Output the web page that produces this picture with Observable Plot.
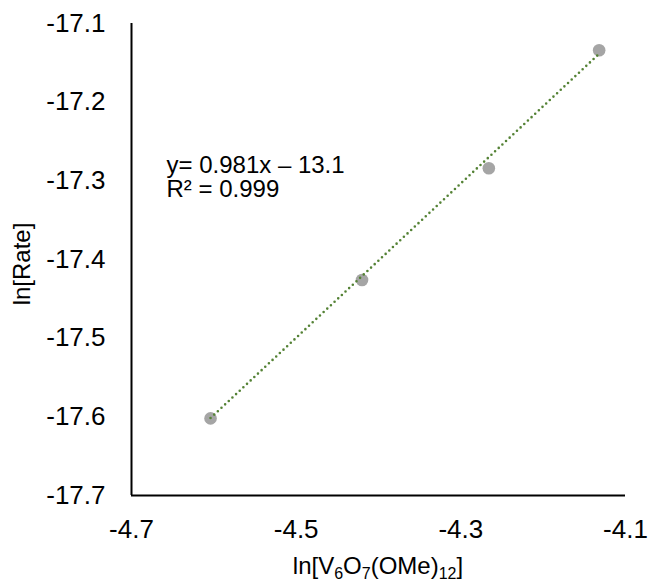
<!DOCTYPE html>
<html>
<head>
<meta charset="utf-8">
<script src="https://cdn.jsdelivr.net/npm/d3@7"></script>
<script src="https://cdn.jsdelivr.net/npm/@observablehq/plot@0.6"></script>
<style>
  body { margin: 0; background: #fff; }
</style>
</head>
<body>
<div id="chart"></div>
<script>
// ln of catalyst concentration vs ln of initial rate
const lnConc = [-4.604, -4.420, -4.266, -4.132];
const lnRate = [-17.602, -17.426, -17.284, -17.134];

const xTicks = [-4.7, -4.5, -4.3, -4.1];
const yTicks = [-17.7, -17.6, -17.5, -17.4, -17.3, -17.2, -17.1];

// linear fit coefficients
const slope = 0.981;
const intercept = -13.085;
const rSquared = 0.999;

const points = lnConc.map((x, i) => ({x, y: lnRate[i]}));
const fit = d3.extent(lnConc).map(x => ({x, y: slope * x + intercept}));
const fmt1 = d => d.toFixed(1);
const equation = `y= ${slope.toFixed(3)}x – ${Math.abs(intercept).toFixed(1)}\nR² = ${rSquared.toFixed(3)}`;

const FONT = "'Liberation Sans', Arial, Helvetica, sans-serif";

const chart = Plot.plot({
  width: 648,
  height: 583,
  marginLeft: 131,
  marginRight: 23,
  marginTop: 23,
  marginBottom: 88,
  style: {fontFamily: FONT, fontSize: "26px", color: "#000", background: "#fff", overflow: "visible"},
  x: {domain: [-4.7, -4.1]},
  y: {domain: [-17.7, -17.1]},
  marks: [
    Plot.axisX({ticks: xTicks, tickFormat: fmt1, tickSize: 0, tickPadding: 24, label: null, fontSize: 26}),
    Plot.axisY({ticks: yTicks, tickFormat: fmt1, tickSize: 0, tickPadding: 26, label: null, fontSize: 26}),
    Plot.ruleX([-4.7], {stroke: "#000", strokeWidth: 2}),
    Plot.ruleY([-17.7], {stroke: "#000", strokeWidth: 2}),
    Plot.dot(points, {x: "x", y: "y", r: 6.3, fill: "#A5A5A5", stroke: null}),
    Plot.line(fit, {x: "x", y: "y", stroke: "#548235", strokeWidth: 2.6, strokeDasharray: "0 5", strokeLinecap: "round"}),
    Plot.text([equation], {
      text: d => d,
      frameAnchor: "top-left",
      textAnchor: "start",
      lineAnchor: "top",
      dx: 35,
      dy: 132,
      lineHeight: 1.0,
      fontSize: 24,
      fill: "#000"
    })
  ]
});

document.getElementById("chart").appendChild(chart);

// Axis titles (the x title carries subscripts)
const svg = d3.select(chart);
const xs = chart.scale("x");
const ys = chart.scale("y");
const xMid = (xs.range[0] + xs.range[1]) / 2;
const yMid = (ys.range[0] + ys.range[1]) / 2;

const xTitle = svg.append("text")
  .attr("x", xMid)
  .attr("y", 574)
  .attr("text-anchor", "middle")
  .attr("font-family", FONT)
  .attr("font-size", 24)
  .attr("fill", "#000");
const parts = [["ln[V", 0], ["6", 1], ["O", 0], ["7", 1], ["(OMe)", 0], ["12", 1], ["]", 0]];
let shifted = false;
for (const [t, sub] of parts) {
  const ts = xTitle.append("tspan").text(t);
  if (sub) {
    ts.attr("font-size", 16).attr("dy", shifted ? 0 : 5);
    shifted = true;
  } else {
    ts.attr("dy", shifted ? -5 : 0);
    shifted = false;
  }
}

svg.append("text")
  .attr("transform", `translate(22,${yMid + 5}) rotate(-90)`)
  .attr("text-anchor", "middle")
  .attr("dy", "0.35em")
  .attr("font-family", FONT)
  .attr("font-size", 24)
  .attr("fill", "#000")
  .text("ln[Rate]");
</script>
</body>
</html>
